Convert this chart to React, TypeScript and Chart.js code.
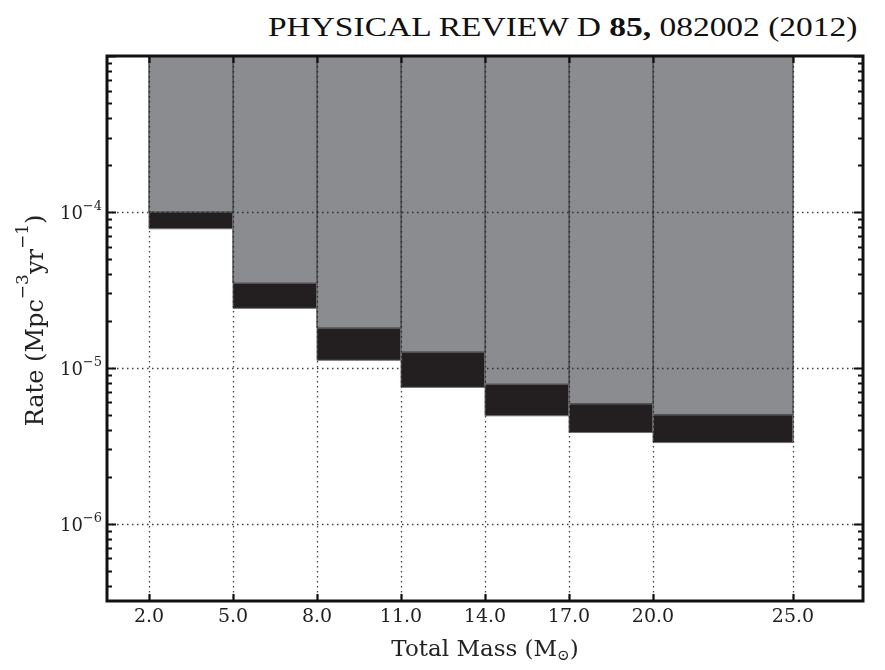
import React, { useEffect, useRef } from 'react';
import { Chart, registerables } from 'chart.js';

Chart.register(...registerables);

// ---- data ----
const X_EDGES = [2, 5, 8, 11, 14, 17, 20, 25];
const X_TICK_LABELS = ['2.0', '5.0', '8.0', '11.0', '14.0', '17.0', '20.0', '25.0'];
// black band: lower and upper rate per mass bin
const RATE_BAND_LOW = [7.8e-5, 2.41e-5, 1.12e-5, 7.5e-6, 4.93e-6, 3.85e-6, 3.32e-6];
const RATE_BAND_HIGH = [1.0e-4, 3.49e-5, 1.8e-5, 1.265e-5, 7.85e-6, 5.89e-6, 5.01e-6];
const Y_MAJOR_EXPONENTS = [-6, -5, -4];
const X_MIN = 0.5;
const X_MAX = 27.5;
const Y_MIN = 3.2e-7;
const Y_MAX = 1e-3;

const GRAY = '#8b8c90';
const BLACK = '#231f20';
const SERIF = "'DejaVu Serif'";

function rectPoints(x0: number, x1: number, lo: number, hi: number) {
  return [
    { x: x0, y: lo },
    { x: x0, y: hi },
    { x: x1, y: hi },
    { x: x1, y: lo },
    { x: x0, y: lo },
  ];
}

const decor = {
  id: 'decor',
  afterDatasetsDraw(chart: any) {
    const { ctx, chartArea: a, scales } = chart;
    const x = scales.x, y = scales.y;
    ctx.save();
    ctx.beginPath();
    ctx.rect(a.left, a.top, a.right - a.left, a.bottom - a.top);
    ctx.clip();
    ctx.setLineDash([1.5, 3.5]);
    ctx.lineWidth = 1.3;
    ctx.strokeStyle = 'rgba(30,30,30,0.85)';
    for (const e of Y_MAJOR_EXPONENTS) {
      const py = Math.round(y.getPixelForValue(Math.pow(10, e))) + 0.5;
      ctx.beginPath();
      ctx.moveTo(a.left, py);
      ctx.lineTo(a.right, py);
      ctx.stroke();
    }
    for (const v of X_EDGES) {
      const px = Math.round(x.getPixelForValue(v)) + 0.5;
      ctx.beginPath();
      ctx.moveTo(px, a.top);
      ctx.lineTo(px, a.bottom);
      ctx.stroke();
    }
    ctx.restore();
  },
  afterDraw(chart: any) {
    const { ctx, chartArea: a, scales } = chart;
    const x = scales.x, y = scales.y;
    ctx.save();
    ctx.setLineDash([]);
    ctx.strokeStyle = '#111';
    // ticks on y (left + right)
    for (let e = -7; e <= -3; e++) {
      for (let m = 1; m <= 9; m++) {
        const v = m * Math.pow(10, e);
        if (v < Y_MIN || v > Y_MAX) continue;
        const py = Math.round(y.getPixelForValue(v)) + 0.5;
        const len = m === 1 ? 9 : 5;
        ctx.lineWidth = m === 1 ? 2.2 : 1.8;
        ctx.beginPath();
        ctx.moveTo(a.left, py);
        ctx.lineTo(a.left + len, py);
        ctx.moveTo(a.right, py);
        ctx.lineTo(a.right - len, py);
        ctx.stroke();
      }
    }
    // ticks on x (bottom + top)
    ctx.lineWidth = 2.2;
    for (const v of X_EDGES) {
      const px = Math.round(x.getPixelForValue(v)) + 0.5;
      ctx.beginPath();
      ctx.moveTo(px, a.bottom);
      ctx.lineTo(px, a.bottom - 7);
      ctx.moveTo(px, a.top);
      ctx.lineTo(px, a.top + 7);
      ctx.stroke();
    }
    // frame
    ctx.lineWidth = 3;
    ctx.strokeStyle = '#111';
    ctx.strokeRect(a.left, a.top, a.right - a.left, a.bottom - a.top);

    // y tick labels with superscripts
    ctx.fillStyle = '#222';
    ctx.textAlign = 'left';
    ctx.textBaseline = 'alphabetic';
    const rightX = a.left - 5;
    for (const e of Y_MAJOR_EXPONENTS) {
      const py = y.getPixelForValue(Math.pow(10, e));
      ctx.font = `18px ${SERIF}`;
      const base = '10';
      const w1 = ctx.measureText(base).width;
      ctx.font = `13px ${SERIF}`;
      const sup = '\u2212' + Math.abs(e);
      const w2 = ctx.measureText(sup).width;
      ctx.font = `18px ${SERIF}`;
      ctx.fillText(base, rightX - w2 - w1, py + 7.5);
      ctx.font = `13px ${SERIF}`;
      ctx.fillText(sup, rightX - w2, py - 1.5);
    }

    // y axis title
    const parts: [string, boolean][] = [
      ['Rate (Mpc', false],
      ['\u22123', true],
      ['yr', false],
      ['\u22121', true],
      [')', false],
    ];
    const mainF = `24px ${SERIF}`;
    const supF = `17px ${SERIF}`;
    const widths = parts.map(([t, s]) => {
      ctx.font = s ? supF : mainF;
      return ctx.measureText(t).width;
    });
    const total = widths.reduce((p, c) => p + c, 0);
    ctx.save();
    ctx.translate(35, (a.top + a.bottom) / 2 - 8);
    ctx.rotate(-Math.PI / 2);
    let cx = -total / 2;
    parts.forEach(([t, s], i) => {
      ctx.font = s ? supF : mainF;
      ctx.fillText(t, cx, s ? -7 : 8);
      cx += widths[i];
    });
    ctx.restore();

    // x axis title
    const xparts: [string, number][] = [
      ['Total Mass (M', 0],
      ['\u2299', 1],
      [')', 0],
    ];
    const xMain = `23px ${SERIF}`;
    const xSub = `15px ${SERIF}`;
    const xw = xparts.map(([t, s]) => {
      ctx.font = s ? xSub : xMain;
      return ctx.measureText(t).width;
    });
    const xt = xw.reduce((p, c) => p + c, 0);
    let sx = (a.left + a.right) / 2 - xt / 2;
    xparts.forEach(([t, s], i) => {
      ctx.font = s ? xSub : xMain;
      ctx.fillText(t, sx, s ? 660 : 656);
      sx += xw[i];
    });
    ctx.restore();
  },
};

export default function App() {
  const ref = useRef<HTMLCanvasElement | null>(null);
  useEffect(() => {
    if (!ref.current) return;
    const datasets: any[] = [];
    for (let i = 0; i < RATE_BAND_LOW.length; i++) {
      const x0 = X_EDGES[i], x1 = X_EDGES[i + 1];
      datasets.push({
        data: rectPoints(x0, x1, RATE_BAND_HIGH[i], Y_MAX),
        showLine: true,
        fill: 'shape',
        backgroundColor: GRAY,
        borderColor: '#525357',
        borderWidth: 1.5,
        pointRadius: 0,
        tension: 0,
      });
      datasets.push({
        data: rectPoints(x0, x1, RATE_BAND_LOW[i], RATE_BAND_HIGH[i]),
        showLine: true,
        fill: 'shape',
        backgroundColor: BLACK,
        borderColor: '#6f6f72',
        borderWidth: 1,
        pointRadius: 0,
        tension: 0,
      });
    }
    const chart = new Chart(ref.current, {
      type: 'scatter',
      data: { datasets },
      options: {
        animation: false,
        responsive: false,
        devicePixelRatio: 1,
        layout: { padding: { top: 56, right: 22, left: 0, bottom: 0 } },
        plugins: { legend: { display: false }, tooltip: { enabled: false }, title: { display: false } },
        scales: {
          x: {
            type: 'linear',
            min: X_MIN,
            max: X_MAX,
            grid: { display: false, drawTicks: false },
            border: { display: false },
            afterBuildTicks: (s: any) => {
              s.ticks = X_EDGES.map((v) => ({ value: v }));
            },
            afterFit: (s: any) => {
              s.height = 69;
            },
            ticks: {
              autoSkip: false,
              maxRotation: 0,
              padding: 5,
              color: '#222',
              font: { family: 'DejaVu Serif', size: 19 },
              callback: (v: any) => {
                const i = X_EDGES.indexOf(Number(v));
                return i >= 0 ? X_TICK_LABELS[i] : '';
              },
            },
          },
          y: {
            type: 'logarithmic',
            min: Y_MIN,
            max: Y_MAX,
            grid: { display: false, drawTicks: false },
            border: { display: false },
            ticks: { display: false },
            afterFit: (s: any) => {
              s.width = 107;
            },
          },
        },
      },
      plugins: [decor],
    });
    return () => chart.destroy();
  }, []);

  return (
    <div style={{ position: 'absolute', left: 0, top: 0, width: 885, height: 670, background: '#fff' }}>
      <div
        style={{
          position: 'absolute',
          right: 28,
          top: 14,
          whiteSpace: 'nowrap',
          fontFamily: "'Liberation Serif'",
          fontSize: 27,
          lineHeight: '27px',
          color: '#111',
          transform: 'scaleX(1.24)',
          transformOrigin: 'right center',
        }}
      >
        PHYSICAL REVIEW D <b>85,</b> 082002 (2012)
      </div>
      <canvas ref={ref} width={885} height={670} style={{ position: 'absolute', left: 0, top: 0 }} />
    </div>
  );
}
